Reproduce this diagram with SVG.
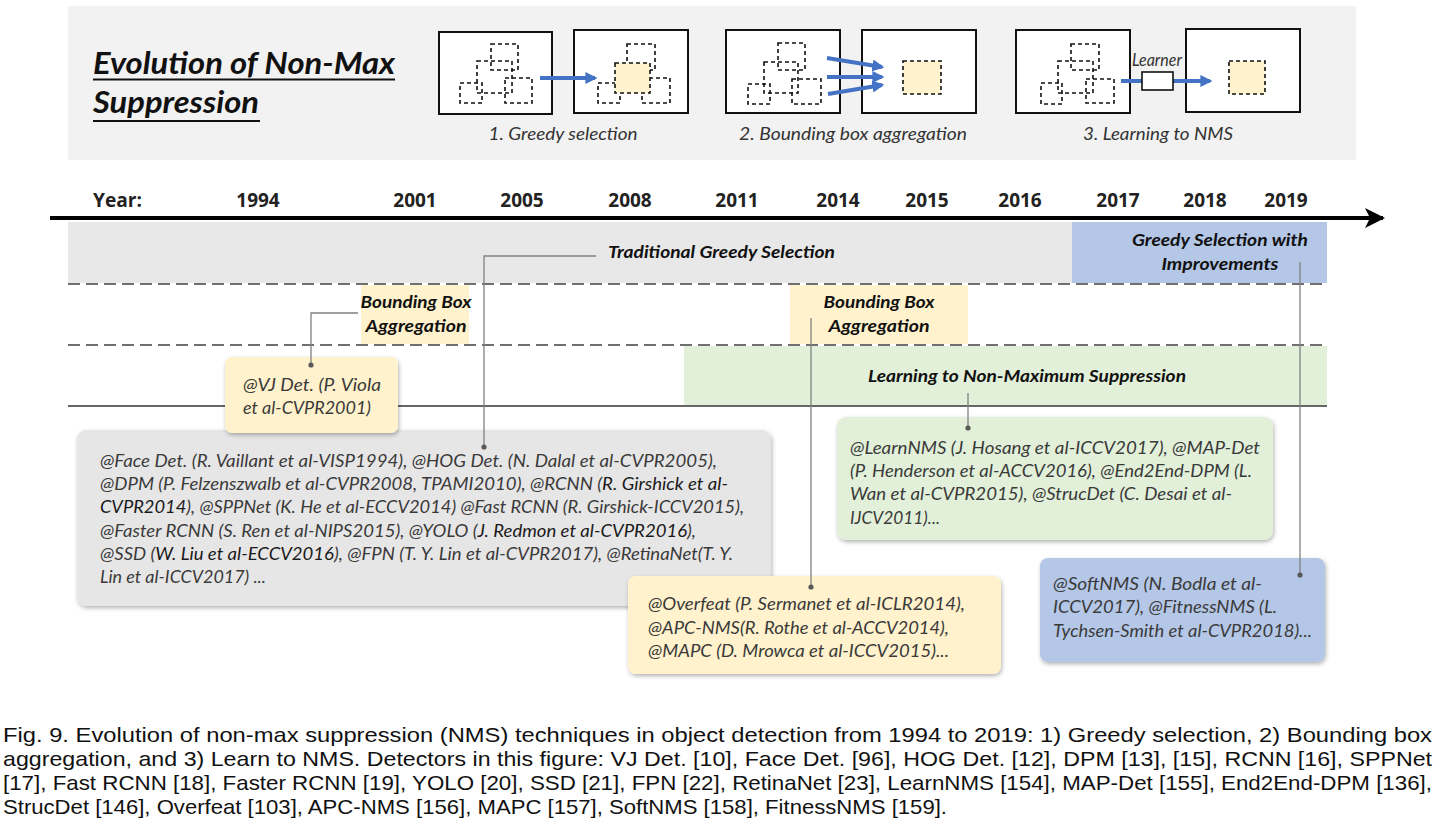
<svg xmlns="http://www.w3.org/2000/svg" width="1440" height="825" viewBox="0 0 1440 825">
<defs>
<style>
.lbl{font-family:Lato,"Open Sans","Liberation Sans",sans-serif;font-style:italic;font-weight:700;font-size:17px;fill:#111}
.yr{font-family:"Open Sans",Lato,"Liberation Sans",sans-serif;font-weight:700;font-size:19px;fill:#222}
.bt{font-family:Lato,"Open Sans","Liberation Sans",sans-serif;font-style:italic;font-size:17px;fill:#3a3a3a}
.cap{font-family:Lato,"Open Sans","Liberation Sans",sans-serif;font-style:italic;font-size:17px;fill:#333}
.fig{font-family:"Liberation Sans",Arial,sans-serif;font-size:21px;fill:#111}
.frame{fill:#fff;stroke:#111;stroke-width:2}
.db{fill:none;stroke:#111;stroke-width:1.6;stroke-dasharray:4 3}
.dbf{fill:#fff2cc;stroke:#111;stroke-width:1.6;stroke-dasharray:4 3}
.bar{stroke:#4472c4;stroke-width:4;fill:none}
.dash{stroke:#404040;stroke-width:1.7;stroke-dasharray:12 6;fill:none}
.con{stroke:#808080;stroke-width:1.3;fill:none}
.dot{fill:#595959}
</style>
<marker id="blueArrow" viewBox="0 0 10 10" refX="8" refY="5" markerWidth="3" markerHeight="3" orient="auto"><path d="M0,0 L10,5 L0,10 z" fill="#4472c4"/></marker>
<marker id="axisArrow" viewBox="0 0 20 20" refX="18" refY="10" markerWidth="5" markerHeight="5" markerUnits="strokeWidth" orient="auto"><path d="M0,0 L20,10 L0,20 L5,10 z" fill="#000"/></marker>
<filter id="sh" x="-10%" y="-10%" width="120%" height="130%"><feDropShadow dx="1" dy="2" stdDeviation="2" flood-color="#000" flood-opacity="0.3"/></filter>
</defs>

<!-- Top panel -->
<g id="header">
<rect x="68" y="6" width="1288" height="154" fill="#f2f2f2"/>
<text x="93" y="74" font-family="Lato,'Open Sans',sans-serif" font-weight="700" font-style="italic" font-size="30" fill="#111" textLength="302" lengthAdjust="spacingAndGlyphs">Evolution of Non-Max</text>
<line x1="93" y1="79.5" x2="395" y2="79.5" stroke="#111" stroke-width="2.2"/>
<text x="93" y="113" font-family="Lato,'Open Sans',sans-serif" font-weight="700" font-style="italic" font-size="30" fill="#111" textLength="166" lengthAdjust="spacingAndGlyphs">Suppression</text>
<line x1="93" y1="121" x2="260" y2="121" stroke="#111" stroke-width="2.2"/>
</g>

<g id="illus-greedy">
<rect class="frame" x="439" y="32" width="113" height="82"/>
<rect class="db" x="491" y="44" width="27" height="26"/>
<rect class="db" x="477" y="61" width="35" height="32"/>
<rect class="db" x="505" y="78" width="27" height="25"/>
<rect class="db" x="460" y="83" width="22" height="20"/>
<rect class="frame" x="574" y="30" width="114" height="83"/>
<rect class="db" x="627" y="44" width="28" height="26"/>
<rect class="db" x="642" y="78" width="28" height="25"/>
<rect class="db" x="598" y="83" width="22" height="20"/>
<rect class="dbf" x="615" y="63" width="35" height="30"/>
<line class="bar" x1="540" y1="78" x2="595" y2="78" marker-end="url(#blueArrow)"/>
<text class="cap" x="563" y="140" text-anchor="middle" textLength="149" lengthAdjust="spacingAndGlyphs">1. Greedy selection</text>
</g>

<g id="illus-aggregation">
<rect class="frame" x="726" y="30" width="114" height="83"/>
<rect class="db" x="778" y="43" width="27" height="27"/>
<rect class="db" x="764" y="62" width="34" height="31"/>
<rect class="db" x="792" y="79" width="29" height="25"/>
<rect class="db" x="748" y="84" width="22" height="20"/>
<rect class="frame" x="862" y="30" width="114" height="83"/>
<rect class="dbf" x="903" y="61" width="38" height="33"/>
<line class="bar" x1="827" y1="58" x2="882" y2="67" marker-end="url(#blueArrow)"/>
<line class="bar" x1="827" y1="77" x2="882" y2="77" marker-end="url(#blueArrow)"/>
<line class="bar" x1="828" y1="94" x2="882" y2="85" marker-end="url(#blueArrow)"/>
<text class="cap" x="853" y="140" text-anchor="middle" textLength="228" lengthAdjust="spacingAndGlyphs">2. Bounding box aggregation</text>
</g>

<g id="illus-learning">
<rect class="frame" x="1016" y="30" width="114" height="83"/>
<rect class="db" x="1071" y="44" width="28" height="26"/>
<rect class="db" x="1058" y="61" width="35" height="32"/>
<rect class="db" x="1086" y="79" width="28" height="24"/>
<rect class="db" x="1041" y="83" width="21" height="21"/>
<rect class="frame" x="1186" y="29" width="114" height="83"/>
<rect class="dbf" x="1229" y="61" width="36" height="33"/>
<line class="bar" x1="1121" y1="81" x2="1142" y2="81"/>
<line class="bar" x1="1173" y1="81" x2="1210" y2="81" marker-end="url(#blueArrow)"/>
<rect x="1142" y="72" width="31" height="18" fill="#fff" stroke="#111" stroke-width="1.6"/>
<text class="cap" x="1157" y="66" text-anchor="middle" font-size="13" textLength="50" lengthAdjust="spacingAndGlyphs">Learner</text>
<text class="cap" x="1158" y="140" text-anchor="middle" textLength="150" lengthAdjust="spacingAndGlyphs">3. Learning to NMS</text>
</g>

<!-- Timeline -->
<g id="bands">
<rect x="68" y="222" width="1004" height="61" fill="#e8e8e8"/>
<rect x="1072" y="222" width="255" height="61" fill="#b4c7e7"/>
<rect x="361" y="285" width="108" height="59" fill="#fff2cc"/>
<rect x="790" y="285" width="178" height="59" fill="#fff2cc"/>
<rect x="684" y="346" width="643" height="59" fill="#e2f0d9"/>
<line class="dash" x1="68" y1="284" x2="1327" y2="284"/>
<line class="dash" x1="68" y1="345" x2="1327" y2="345"/>
<line x1="68" y1="406" x2="1327" y2="406" stroke="#333" stroke-width="1.6"/>
</g>

<g id="axis">
<line x1="50" y1="218" x2="1383" y2="218" stroke="#000" stroke-width="4" marker-end="url(#axisArrow)"/>
<text class="yr" x="93" y="207" textLength="49" lengthAdjust="spacingAndGlyphs">Year:</text>
<g text-anchor="middle">
<text class="yr" x="258" y="207">1994</text>
<text class="yr" x="415" y="207">2001</text>
<text class="yr" x="522" y="207">2005</text>
<text class="yr" x="630" y="207">2008</text>
<text class="yr" x="737" y="207">2011</text>
<text class="yr" x="838" y="207">2014</text>
<text class="yr" x="927" y="207">2015</text>
<text class="yr" x="1020" y="207">2016</text>
<text class="yr" x="1118" y="207">2017</text>
<text class="yr" x="1205" y="207">2018</text>
<text class="yr" x="1286" y="207">2019</text>
</g>
</g>

<g id="label-greedy"><text class="lbl" x="608" y="258" textLength="227" lengthAdjust="spacingAndGlyphs">Traditional Greedy Selection</text></g>
<g id="label-greedy-improved">
<text class="lbl" x="1220" y="246" text-anchor="middle" textLength="176" lengthAdjust="spacingAndGlyphs">Greedy Selection with</text>
<text class="lbl" x="1220" y="270" text-anchor="middle" textLength="117" lengthAdjust="spacingAndGlyphs">Improvements</text>
</g>
<g id="label-bba1">
<text class="lbl" x="416" y="308" text-anchor="middle" textLength="111" lengthAdjust="spacingAndGlyphs">Bounding Box</text>
<text class="lbl" x="416" y="332" text-anchor="middle" textLength="101" lengthAdjust="spacingAndGlyphs">Aggregation</text>
</g>
<g id="label-bba2">
<text class="lbl" x="879" y="308" text-anchor="middle" textLength="111" lengthAdjust="spacingAndGlyphs">Bounding Box</text>
<text class="lbl" x="879" y="332" text-anchor="middle" textLength="101" lengthAdjust="spacingAndGlyphs">Aggregation</text>
</g>
<g id="label-learning"><text class="lbl" x="1027" y="382" text-anchor="middle" textLength="318" lengthAdjust="spacingAndGlyphs">Learning to Non-Maximum Suppression</text></g>

<!-- Boxes -->
<g id="box-greedy">
<rect x="77" y="430" width="694" height="176" rx="9" fill="#e7e6e6" filter="url(#sh)"/>
<text class="bt" x="100" y="467" textLength="617" lengthAdjust="spacingAndGlyphs">@Face Det. (R. Vaillant et al-VISP1994), @HOG Det. (N. Dalal et al-CVPR2005),</text>
<text class="bt" x="100" y="490" textLength="628" lengthAdjust="spacingAndGlyphs">@DPM (P. Felzenszwalb et al-CVPR2008, TPAMI2010), @RCNN (<tspan fill="#1a1a1a">R. Girshick et al-</tspan></text>
<text class="bt" x="100" y="513" textLength="644" lengthAdjust="spacingAndGlyphs"><tspan fill="#1a1a1a">CVPR2014</tspan>), @SPPNet (K. He et al-ECCV2014) @Fast RCNN (R. Girshick-ICCV2015),</text>
<text class="bt" x="100" y="537" textLength="596" lengthAdjust="spacingAndGlyphs">@Faster RCNN (S. Ren et al-NIPS2015), @YOLO (<tspan fill="#1a1a1a">J. Redmon et al-CVPR2016</tspan>),</text>
<text class="bt" x="100" y="560" textLength="633" lengthAdjust="spacingAndGlyphs">@SSD (<tspan fill="#1a1a1a">W. Liu et al-ECCV2016</tspan>), @FPN (T. Y. Lin et al-CVPR2017), @RetinaNet(T. Y.</text>
<text class="bt" x="100" y="583" textLength="166" lengthAdjust="spacingAndGlyphs">Lin et al-ICCV2017) ...</text>
</g>

<g id="box-vj">
<rect x="225" y="357" width="173" height="76" rx="7" fill="#fff2cc" filter="url(#sh)"/>
<text class="bt" x="243" y="391" textLength="138" lengthAdjust="spacingAndGlyphs">@VJ Det. (P. Viola</text>
<text class="bt" x="243" y="414" textLength="128" lengthAdjust="spacingAndGlyphs">et al-CVPR2001)</text>
</g>

<g id="box-learning">
<rect x="837" y="417" width="436" height="123" rx="9" fill="#e2f0d9" filter="url(#sh)"/>
<text class="bt" x="850" y="454" textLength="410" lengthAdjust="spacingAndGlyphs">@LearnNMS (J. Hosang et al-ICCV2017), @MAP-Det</text>
<text class="bt" x="850" y="477" textLength="402" lengthAdjust="spacingAndGlyphs">(P. Henderson et al-ACCV2016), @End2End-DPM (L.</text>
<text class="bt" x="850" y="500" textLength="382" lengthAdjust="spacingAndGlyphs">Wan et al-CVPR2015), @StrucDet (C. Desai et al-</text>
<text class="bt" x="850" y="524" textLength="90" lengthAdjust="spacingAndGlyphs">IJCV2011)...</text>
</g>

<g id="box-aggregation">
<rect x="628" y="576" width="373" height="98" rx="8" fill="#fff2cc" filter="url(#sh)"/>
<text class="bt" x="648" y="610" textLength="317" lengthAdjust="spacingAndGlyphs">@Overfeat (P. Sermanet et al-ICLR2014),</text>
<text class="bt" x="648" y="634" textLength="301" lengthAdjust="spacingAndGlyphs">@APC-NMS(R. Rothe et al-ACCV2014),</text>
<text class="bt" x="648" y="657" textLength="301" lengthAdjust="spacingAndGlyphs">@MAPC (D. Mrowca et al-ICCV2015)...</text>
</g>

<g id="box-improved">
<rect x="1040" y="558" width="285" height="104" rx="8" fill="#b4c7e7" filter="url(#sh)"/>
<text class="bt" x="1053" y="590" textLength="209" lengthAdjust="spacingAndGlyphs">@SoftNMS (N. Bodla et al-</text>
<text class="bt" x="1053" y="613" textLength="224" lengthAdjust="spacingAndGlyphs">ICCV2017), @FitnessNMS (L.</text>
<text class="bt" x="1053" y="637" textLength="259" lengthAdjust="spacingAndGlyphs">Tychsen-Smith et al-CVPR2018)...</text>
</g>

<g id="connectors">
<polyline class="con" points="596,256 484,256 484,447"/>
<circle class="dot" cx="484" cy="447" r="2.6"/>
<polyline class="con" points="358,313 311,313 311,365"/>
<circle class="dot" cx="311" cy="365" r="2.6"/>
<line class="con" x1="811" y1="318" x2="811" y2="587"/>
<circle class="dot" cx="811" cy="587" r="2.6"/>
<line class="con" x1="968" y1="393" x2="968" y2="428"/>
<circle class="dot" cx="968" cy="428" r="2.6"/>
<line class="con" x1="1300" y1="262" x2="1300" y2="575"/>
<circle class="dot" cx="1300" cy="575" r="2.6"/>
</g>

<!-- Caption -->
<g id="caption">
<text class="fig" x="3" y="742" textLength="1429" lengthAdjust="spacingAndGlyphs">Fig. 9. Evolution of non-max suppression (NMS) techniques in object detection from 1994 to 2019: 1) Greedy selection, 2) Bounding box</text>
<text class="fig" x="3" y="766" textLength="1429" lengthAdjust="spacingAndGlyphs">aggregation, and 3) Learn to NMS. Detectors in this figure: VJ Det. [10], Face Det. [96], HOG Det. [12], DPM [13], [15], RCNN [16], SPPNet</text>
<text class="fig" x="3" y="790" textLength="1429" lengthAdjust="spacingAndGlyphs">[17], Fast RCNN [18], Faster RCNN [19], YOLO [20], SSD [21], FPN [22], RetinaNet [23], LearnNMS [154], MAP-Det [155], End2End-DPM [136],</text>
<text class="fig" x="3" y="814" textLength="944" lengthAdjust="spacingAndGlyphs">StrucDet [146], Overfeat [103], APC-NMS [156], MAPC [157], SoftNMS [158], FitnessNMS [159].</text>
</g>
</svg>
